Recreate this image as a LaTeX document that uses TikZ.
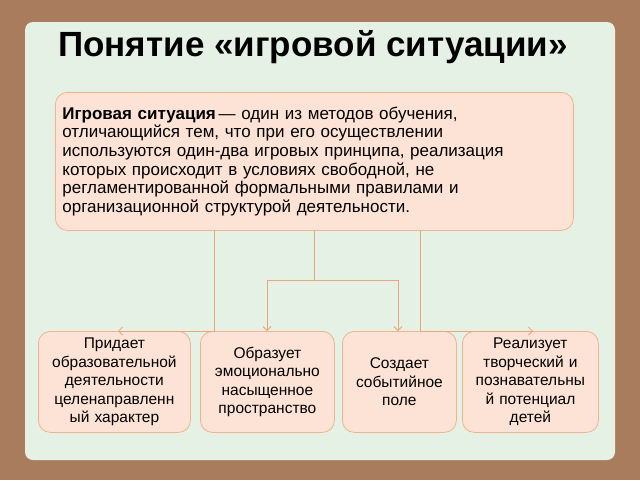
\documentclass[tikz,border=0pt]{standalone}
\usepackage{fontspec}
\setmainfont{Liberation Sans}
\usetikzlibrary{arrows.meta}
\definecolor{bgb}{HTML}{A87C5C}
\definecolor{panel}{HTML}{E6F1E6}
\definecolor{boxf}{HTML}{FDE3D5}
\definecolor{boxd}{HTML}{EFB48E}
\definecolor{linec}{HTML}{E8A67A}
\newcommand{\jl}[1]{\makebox[504pt][s]{#1}\\}
\begin{document}
\begin{tikzpicture}[x=1pt,y=-1pt,
  card/.style={draw=boxd,fill=boxf,rounded corners=12pt,line width=0.8pt,inner sep=3pt},
  small/.style={card,font=\fontsize{15.5}{18.5}\selectfont,align=center},
  conn/.style={draw=linec,line width=0.8pt,-{Straight Barb[length=4pt,width=8pt]}}]
\useasboundingbox (0,0) rectangle (640,480);
\fill[bgb] (0,0) rectangle (640,480);
\fill[panel,rounded corners=8pt] (25,22) rectangle (615,460);
\node[font=\bfseries\fontsize{35}{38}\selectfont] (title) at (313,47) {Понятие «игровой ситуации»};
\node[card,minimum width=518pt,minimum height=138pt,anchor=north west] (main) at (55,92) {};
\node[text width=504pt,align=left,font=\fontsize{17}{18.6}\selectfont,inner sep=0] (mt) at (main.center) {\jl{\textbf{Игровая ситуация}\,— один из методов обучения,}\jl{отличающийся тем, что при его осуществлении}\jl{используются один-два игровых принципа, реализация}\jl{которых происходит в условиях свободной, не}\jl{регламентированной формальными правилами и}организационной структурой деятельности.};
\node[small,minimum width=152pt,minimum height=101pt,text width=144pt,anchor=north west] (b1) at (38,331) {Придает\\образовательной\\деятельности\\целенаправленн\\ый характер};
\node[small,minimum width=134pt,minimum height=101pt,text width=126pt,anchor=north west] (b2) at (200,331) {Образует\\эмоционально\\насыщенное\\пространство};
\node[small,minimum width=114pt,minimum height=101pt,text width=106pt,anchor=north west] (b3) at (342,331) {Создает\\событийное\\поле};
\node[small,minimum width=136pt,minimum height=101pt,text width=128pt,anchor=north west] (b4) at (462,331) {Реализует\\творческий и\\познавательны\\й потенциал\\детей};
\coordinate (j) at (main.south |- 0,280);
\draw[draw=linec,line width=0.8pt] (main.south) -- (j);
\draw[conn] (j) -| (b2.north -| 267,0);
\draw[conn] (j) -| (b3.north -| 398,0);
\draw[conn] (main.south -| 214,0) |- (b1.north -| 118,0);
\draw[conn] (main.south -| 420,0) |- (b4.north -| 533,0);
\end{tikzpicture}
\end{document}
